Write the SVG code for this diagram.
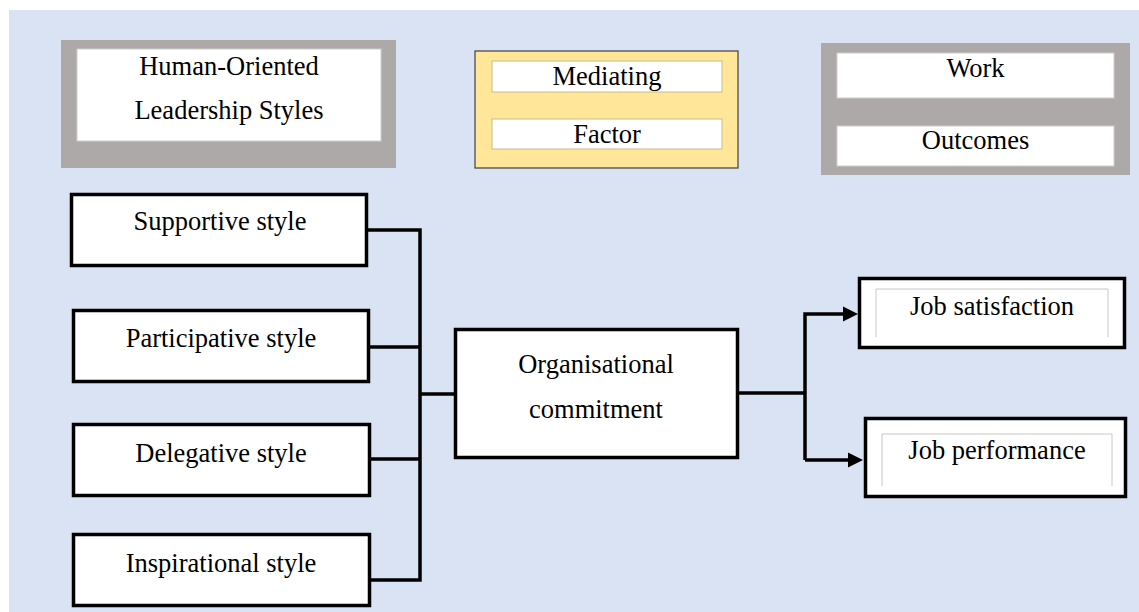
<svg xmlns="http://www.w3.org/2000/svg" width="1139" height="612" viewBox="0 0 1139 612">
<style>
text{font-family:"Liberation Serif","Times New Roman",serif;font-size:26.5px;fill:#000;text-anchor:middle}
.node{fill:#fff;stroke:#000;stroke-width:3.5}
.hdrgray{fill:#ADA9A9}
.inner{fill:#fff;stroke:#D0CECE;stroke-width:1}
.innery{fill:#fff;stroke:#C9B98A;stroke-width:1}
.conn{fill:none;stroke:#000;stroke-width:3.5}
</style>
<defs>
<marker id="arr" markerWidth="5" markerHeight="5" refX="4.5" refY="2.5" orient="auto" markerUnits="strokeWidth">
<path d="M0,0 L5,2.5 L0,5 Z" fill="#000"/>
</marker>
</defs>
<rect x="9" y="10" width="1130" height="602" fill="#DAE3F3"/>
<g id="hdr-leadership">
<rect class="hdrgray" x="61" y="40" width="335" height="128"/>
<rect class="inner" x="77" y="49" width="304" height="92"/>
<text x="229" y="75">Human-Oriented</text>
<text x="229" y="119">Leadership Styles</text>
</g>
<g id="hdr-mediating">
<rect x="475" y="51" width="263" height="117" fill="#FFE699" stroke="#404040" stroke-width="1.2"/>
<rect class="innery" x="492" y="61" width="230" height="31"/>
<rect class="innery" x="492" y="119" width="230" height="30"/>
<text x="607" y="85">Mediating</text>
<text x="607" y="143">Factor</text>
</g>
<g id="hdr-outcomes">
<rect class="hdrgray" x="821" y="43" width="309" height="132"/>
<rect class="inner" x="837" y="53" width="277" height="45"/>
<rect class="inner" x="837" y="126" width="277" height="40"/>
<text x="975.5" y="77">Work</text>
<text x="975.5" y="149">Outcomes</text>
</g>
<g id="supportive">
<rect class="node" x="71.5" y="194.5" width="295" height="71"/>
<text x="220" y="230">Supportive style</text>
</g>
<g id="participative">
<rect class="node" x="73.5" y="310.5" width="295" height="71"/>
<text x="221" y="347">Participative style</text>
</g>
<g id="delegative">
<rect class="node" x="73.5" y="424.5" width="296" height="71"/>
<text x="221" y="462">Delegative style</text>
</g>
<g id="inspirational">
<rect class="node" x="73.5" y="534.5" width="296" height="71"/>
<text x="221" y="572">Inspirational style</text>
</g>
<g id="commitment">
<rect class="node" x="455.5" y="329.5" width="282" height="128"/>
<text x="596" y="373">Organisational</text>
<text x="596" y="418">commitment</text>
</g>
<g id="satisfaction">
<rect class="node" x="859.5" y="278.5" width="265" height="69"/>
<path d="M876,337 V289 H1108 V337" fill="none" stroke="#C8C8C8" stroke-width="1"/>
<text x="992" y="315">Job satisfaction</text>
</g>
<g id="performance">
<rect class="node" x="865.5" y="418.5" width="260" height="78"/>
<path d="M882,486 V434 H1112 V486" fill="none" stroke="#C8C8C8" stroke-width="1"/>
<text x="997" y="459">Job performance</text>
</g>
<g id="connectors">
<path class="conn" d="M368,230 H420 V580 H370"/>
<path class="conn" d="M370,347 H420"/>
<path class="conn" d="M371,459 H420"/>
<path class="conn" d="M421,394 H455"/>
<path class="conn" d="M738,393 H805"/>
<path class="conn" d="M805,460 V314 H845"/>
<path d="M843,306.5 L858,314 L843,321.5 Z" fill="#000"/>
<path class="conn" d="M805,460 H850"/>
<path d="M848,452.5 L863,460 L848,467.5 Z" fill="#000"/>
</g>
</svg>
